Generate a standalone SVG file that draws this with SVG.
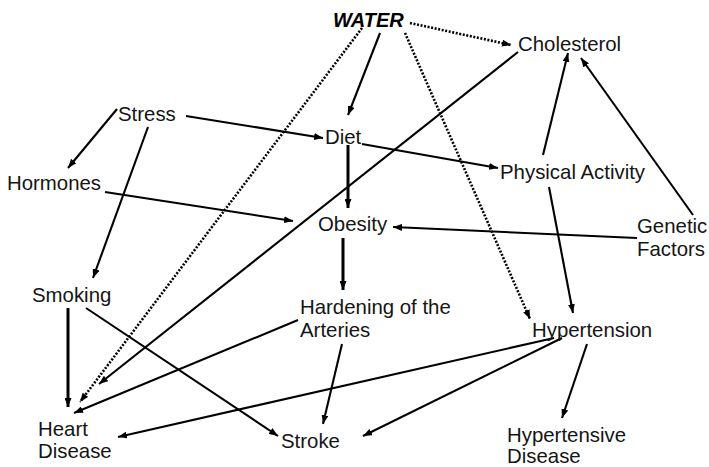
<svg xmlns="http://www.w3.org/2000/svg" width="709" height="467" viewBox="0 0 709 467">
<defs>
<marker id="ah" viewBox="0 0 9 7" refX="9" refY="3.5" markerWidth="9" markerHeight="7" markerUnits="userSpaceOnUse" orient="auto">
<path d="M0,0 L9,3.5 L0,7 z" fill="#000"/>
</marker>
</defs>
<style>
text{font-family:"Liberation Sans",Arial,sans-serif;font-size:20.4px;fill:#151515}
.w{font-weight:bold;font-style:italic;font-size:20px;fill:#000}
.c line{stroke:#000;stroke-width:2.1;marker-end:url(#ah)}
.c line.t{stroke-width:3}
.c line.d{stroke-width:2.6;stroke-dasharray:2 1.6}
</style>
<rect width="709" height="467" fill="#fff"/>
<g class="c" id="connectors">
<line class="d" x1="410" y1="23" x2="511" y2="45"/>
<line x1="380" y1="33" x2="348" y2="115"/>
<line class="d" x1="362" y1="28" x2="80" y2="402"/>
<line class="d" x1="405" y1="33" x2="530" y2="319"/>
<line x1="117" y1="109" x2="68" y2="168"/>
<line x1="186" y1="116" x2="323" y2="138"/>
<line x1="148" y1="127" x2="93" y2="278"/>
<line x1="105" y1="192" x2="293" y2="221"/>
<line class="t" x1="348" y1="145" x2="348" y2="208"/>
<line x1="362" y1="144" x2="498" y2="168"/>
<line x1="518" y1="52" x2="99" y2="384"/>
<line x1="543" y1="155" x2="568" y2="53"/>
<line x1="693" y1="215" x2="581" y2="58"/>
<line x1="637" y1="238" x2="393" y2="227"/>
<line x1="549" y1="187" x2="573" y2="313"/>
<line class="t" x1="343" y1="238" x2="343" y2="290"/>
<line class="t" x1="68" y1="308" x2="68" y2="407"/>
<line x1="86" y1="308" x2="278" y2="436"/>
<line x1="298" y1="320" x2="74" y2="413"/>
<line x1="342" y1="344" x2="323" y2="424"/>
<line x1="554" y1="338" x2="118" y2="437"/>
<line x1="562" y1="338" x2="363" y2="436"/>
<line x1="587" y1="344" x2="562" y2="418"/>
</g>
<g id="water"><text class="w" x="333" y="27">WATER</text></g>
<g id="cholesterol"><text x="518" y="51">Cholesterol</text></g>
<g id="stress"><text x="118" y="121">Stress</text></g>
<g id="diet"><text x="325" y="144">Diet</text></g>
<g id="physical-activity"><text x="500" y="179">Physical Activity</text></g>
<g id="hormones"><text x="7" y="190">Hormones</text></g>
<g id="obesity"><text x="318" y="231">Obesity</text></g>
<g id="genetic-factors"><text x="637" y="233">Genetic</text><text x="637" y="256">Factors</text></g>
<g id="smoking"><text x="32" y="302">Smoking</text></g>
<g id="hardening"><text x="300" y="314">Hardening of the</text><text x="300" y="337">Arteries</text></g>
<g id="hypertension"><text x="532" y="337">Hypertension</text></g>
<g id="heart-disease"><text x="38" y="436">Heart</text><text x="38" y="458">Disease</text></g>
<g id="stroke"><text x="281" y="448">Stroke</text></g>
<g id="hypertensive-disease"><text x="507" y="442">Hypertensive</text><text x="507" y="463">Disease</text></g>
</svg>
